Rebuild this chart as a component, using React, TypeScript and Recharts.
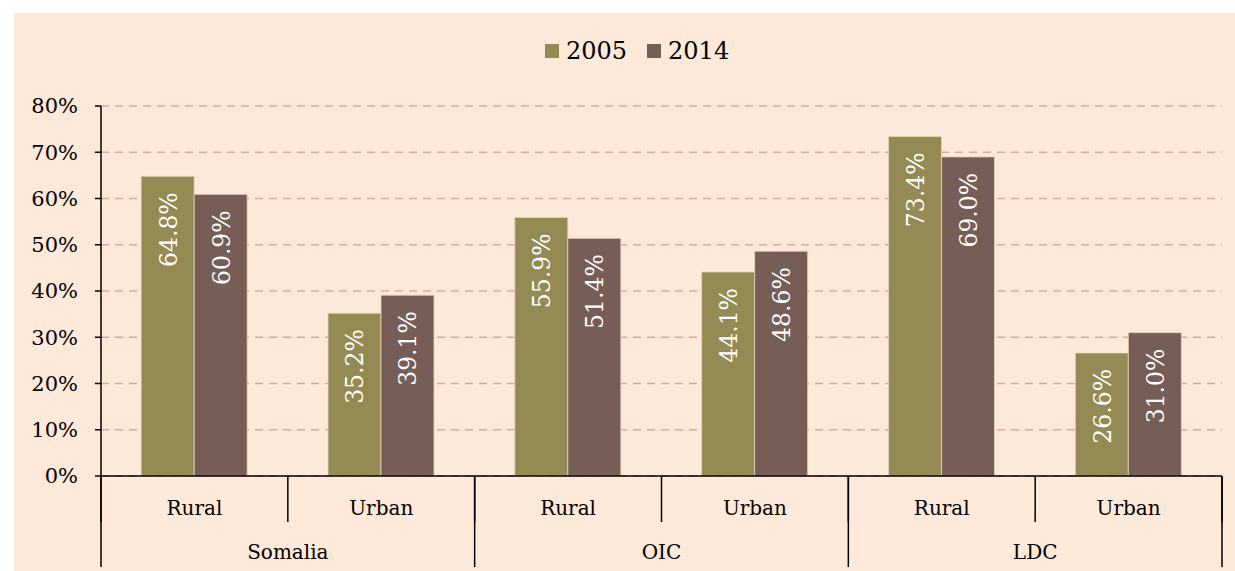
import React from 'react';
import { BarChart, Bar, XAxis, YAxis, CartesianGrid, LabelList } from 'recharts';

// chart values
const groups = ['Somalia', 'Somalia', 'OIC', 'OIC', 'LDC', 'LDC'];
const areas = ['Rural', 'Urban', 'Rural', 'Urban', 'Rural', 'Urban'];
const values2005 = [64.8, 35.2, 55.9, 44.1, 73.4, 26.6];
const values2014 = [60.9, 39.1, 51.4, 48.6, 69.0, 31.0];
const seriesNames = ['2005', '2014'];
const seriesColors = ['#948A54', '#765D56'];
const yTicks = [0, 10, 20, 30, 40, 50, 60, 70, 80];

const data = areas.map((area, i) => ({
  id: `${groups[i]}-${area}-${i}`,
  area,
  group: groups[i],
  v2005: values2005[i],
  v2014: values2014[i],
}));

const FONT = "'DejaVu Serif', serif";
const AXIS_COLOR = '#000000';
const SUB_AXIS_HEIGHT = 46;
const GROUP_AXIS_HEIGHT = 49;

const AreaTick = (props: any) => {
  const { x, y, payload } = props;
  const half = payload.offset ?? 1121 / 12;
  const idx = payload.index;
  return (
    <g>
      <line x1={x - half} x2={x - half} y1={y} y2={y + SUB_AXIS_HEIGHT} stroke={AXIS_COLOR} strokeWidth={1.5} />
      {idx === areas.length - 1 && (
        <line x1={x + half} x2={x + half} y1={y} y2={y + SUB_AXIS_HEIGHT} stroke={AXIS_COLOR} strokeWidth={1.5} />
      )}
      <text x={x} y={y + 39} textAnchor="middle" fontFamily={FONT} fontSize={20} fill="#000">
        {areas[idx]}
      </text>
    </g>
  );
};

const GroupTick = (props: any) => {
  const { x, y, payload, visibleTicksCount } = props;
  const half = payload.offset ?? 1121 / 6;
  const last = payload.index === (visibleTicksCount ?? 3) - 1;
  return (
    <g>
      <line x1={x - half} x2={x - half} y1={y - SUB_AXIS_HEIGHT} y2={y + 45} stroke={AXIS_COLOR} strokeWidth={1.5} />
      {last && (
        <line x1={x + half} x2={x + half} y1={y - SUB_AXIS_HEIGHT} y2={y + 45} stroke={AXIS_COLOR} strokeWidth={1.5} />
      )}
      <text x={x} y={y + 37} textAnchor="middle" fontFamily={FONT} fontSize={20} fill="#000">
        {payload.value}
      </text>
    </g>
  );
};

const BarValueLabel = (props: any) => {
  const { x, y, width, value } = props;
  if (value == null) return null;
  const cx = Number(x) + Number(width) / 2 + 1;
  const ty = Number(y) + 16;
  return (
    <text
      x={cx}
      y={ty}
      transform={`rotate(-90 ${cx} ${ty})`}
      textAnchor="end"
      dominantBaseline="central"
      fontFamily={FONT}
      fontSize={23.5}
      fill="#ffffff"
    >
      {`${Number(value).toFixed(1)}%`}
    </text>
  );
};

const Legendbox = () => (
  <div
    style={{
      position: 'absolute',
      top: 24,
      left: 531,
      display: 'flex',
      alignItems: 'center',
      fontFamily: FONT,
      fontSize: 24,
      color: '#000',
    }}
  >
    {seriesNames.map((name, i) => (
      <div key={name} style={{ display: 'flex', alignItems: 'center', marginRight: i === 0 ? 20 : 0 }}>
        <span style={{ width: 14, height: 14, background: seriesColors[i], marginRight: 7, display: 'inline-block' }} />
        <span>{name}</span>
      </div>
    ))}
  </div>
);

export default function App() {
  return (
    <div style={{ position: 'absolute', left: 14, top: 13, width: 1221, height: 558, background: '#FDE9D9' }}>
      <Legendbox />
      <BarChart
        width={1221}
        height={558}
        data={data}
        margin={{ top: 93, right: 13, left: 0, bottom: 0 }}
        barCategoryGap="21.5%"
        barGap={0}
      >
        <CartesianGrid vertical={false} stroke="#E3A2A2" strokeWidth={1.5} strokeDasharray="8 6" />
        <XAxis
          dataKey="id"
          height={SUB_AXIS_HEIGHT}
          tickSize={0}
          tickMargin={0}
          tickLine={false}
          interval={0}
          axisLine={{ stroke: AXIS_COLOR, strokeWidth: 1.5 }}
          tick={<AreaTick />}
        />
        <XAxis
          dataKey="group"
          xAxisId="group"
          allowDuplicatedCategory={false}
          height={GROUP_AXIS_HEIGHT}
          tickSize={0}
          tickMargin={0}
          tickLine={false}
          interval={0}
          axisLine={false}
          tick={<GroupTick />}
        />
        <YAxis
          width={87}
          domain={[0, 80]}
          ticks={yTicks}
          interval={0}
          tickFormatter={(v) => `${v}%`}
          tickSize={6}
          tickMargin={17}
          tickLine={{ stroke: AXIS_COLOR, strokeWidth: 1.5 }}
          axisLine={{ stroke: AXIS_COLOR, strokeWidth: 1.5 }}
          tick={{ fontFamily: FONT, fontSize: 21, fill: '#000' }}
        />
        <Bar dataKey="v2005" name={seriesNames[0]} fill={seriesColors[0]} stroke="#E6D6BE" strokeWidth={0.8} isAnimationActive={false}>
          <LabelList dataKey="v2005" content={<BarValueLabel />} />
        </Bar>
        <Bar dataKey="v2014" name={seriesNames[1]} fill={seriesColors[1]} stroke="#E6D6BE" strokeWidth={0.8} isAnimationActive={false}>
          <LabelList dataKey="v2014" content={<BarValueLabel />} />
        </Bar>
      </BarChart>
    </div>
  );
}
